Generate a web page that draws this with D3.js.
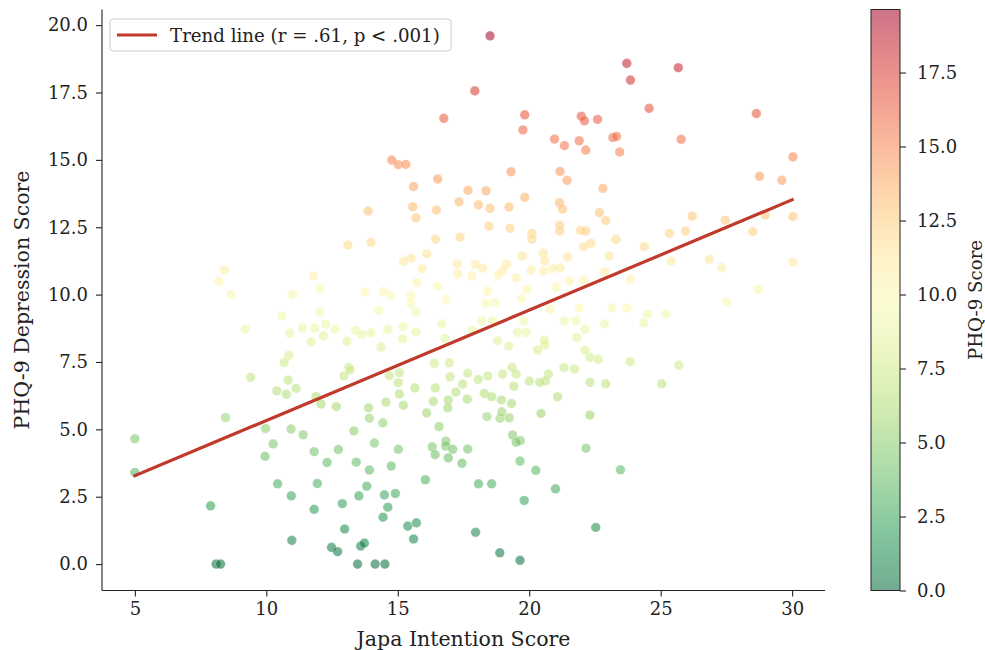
<html>
<head>
  <script src="https://d3js.org/d3.v7.min.js" charset="utf-8"></script>
  <title>Japa Intention vs PHQ-9</title>
  <style>
  body { margin: 0; background: #fff; }
  svg { font-family: "DejaVu Serif", serif; }
  .axis text { font-family: "DejaVu Serif", serif; font-size: 18px; fill: #222; }
  .axis path, .axis line { stroke: #222; stroke-width: 1.1; }
  </style>
</head>
<body>
  <div id="chart"></div>
  <script>

  // japa intention score (x)
  var japaScores = [
    13.1, 8.41, 8.2, 8.66, 11.8, 12.04, 11.0, 10.6, 12.03, 9.2, 10.89, 11.38, 11.84, 12.26, 12.62, 12.17, 11.7, 13.07, 10.86, 10.68, 13.14,
    9.4, 10.83, 10.4, 10.76, 11.13, 11.89, 12.08, 12.66, 12.95, 8.45, 5.0, 5.0, 9.97, 10.94, 11.4, 10.26, 9.95, 11.82, 12.31, 12.74,
    10.43, 10.95, 11.94, 7.88, 11.82, 12.89, 12.98, 10.97, 12.48, 12.71, 8.09, 8.26,
    14.77, 15.02, 15.31, 16.52, 15.6, 19.31, 17.67, 18.36, 17.33, 18.07, 18.51, 19.23, 15.57, 16.47, 13.87, 15.69, 18.47, 19.27,
    16.44, 17.37, 13.98, 16.1, 15.5, 15.22, 15.92, 17.26, 17.95, 18.23, 19.14, 18.99, 17.28, 17.82, 18.84, 15.72, 16.52, 13.76,
    14.45, 14.74, 15.5, 18.42, 16.83, 15.5, 18.36, 18.69, 14.27, 15.69, 18.19, 18.61, 13.39, 13.64, 13.98, 14.62, 15.2, 15.69,
    16.68, 15.19, 14.36, 16.8, 18.8, 19.22, 17.84,
    16.39, 16.96, 13.18, 14.68, 15.06, 16.99, 17.66, 18.06, 18.42, 18.99, 19.35, 15.02, 15.65, 16.43, 17.47, 17.21, 15.06, 14.55,
    15.21, 16.35, 16.92, 16.9, 17.64, 18.29, 18.57, 18.94, 19.33, 13.89, 13.92, 14.43, 16.1, 18.39, 18.89, 19.24, 18.96, 13.33,
    16.57, 14.11, 16.83, 16.82, 16.31, 17.09, 17.66, 15.02, 16.42, 16.92, 17.44, 19.37, 13.42, 13.92, 14.75, 16.05, 13.82, 13.52,
    14.49, 14.91, 18.07, 18.57, 14.62, 14.44, 15.38, 15.71, 15.6, 17.96, 13.59, 13.73, 13.47, 14.14, 14.51, 18.88,
    23.71, 23.85, 25.67, 24.56, 19.83, 19.76, 21.98, 22.1, 22.6, 20.96, 21.34, 21.9, 22.15, 23.18, 23.32, 23.44, 25.78, 21.17,
    21.44, 22.8, 19.83, 21.15, 21.27, 22.67, 22.91, 21.16, 21.16, 21.95, 22.15, 20.1, 20.1, 25.33, 23.3, 22.35, 22.07, 24.38,
    19.73, 20.54, 20.6, 21.46, 23.04, 20.07, 20.55, 20.89, 21.18, 19.5, 22.87, 21.53, 22.07, 23.85, 25.4, 19.92, 21.02, 19.71,
    20.79, 21.9, 21.34, 21.78, 23.15, 23.71, 24.51, 25.2, 22.86, 24.36, 19.79, 19.56, 19.88, 20.58, 20.58, 20.32, 21.8, 22.12,
    22.12, 22.31, 22.63, 23.84, 25.69, 19.5, 21.32, 21.72, 20.73, 20.62, 20.4, 20.0, 19.41, 22.31, 22.91, 25.04, 21.08, 20.45, 22.31,
    19.66, 19.5, 22.16, 19.65, 20.25, 23.47, 21.0, 19.81, 22.53, 19.65,
    28.64, 30.03, 28.76, 29.61, 26.2, 27.46, 25.94, 28.5, 28.98, 30.03, 26.85, 27.32, 30.03, 28.71, 27.52,
    18.51, 17.93, 16.75
  ];

  // PHQ-9 depression score (y), same order
  var phqScores = [
    11.84, 10.91, 10.5, 10.0, 10.69, 10.23, 10.0, 9.21, 9.35, 8.72, 8.56, 8.76, 8.76, 8.9, 8.72, 8.47, 8.25, 8.27, 7.75, 7.48, 7.3,
    6.93, 6.83, 6.43, 6.3, 6.52, 6.21, 5.94, 5.84, 6.98, 5.44, 4.65, 3.4, 5.03, 5.01, 4.8, 4.46, 4.0, 4.17, 3.77, 4.25,
    2.98, 2.53, 2.99, 2.16, 2.03, 2.24, 1.3, 0.88, 0.62, 0.46, 0.0, 0.0,
    14.99, 14.82, 14.83, 14.29, 14.01, 14.56, 13.87, 13.85, 13.44, 13.33, 13.2, 13.25, 13.26, 13.14, 13.1, 12.85, 12.54, 12.46,
    12.06, 12.13, 11.94, 11.51, 11.35, 11.23, 10.96, 11.13, 11.12, 10.98, 11.13, 10.9, 10.76, 10.7, 10.73, 10.44, 10.32, 10.1,
    10.12, 9.96, 9.96, 10.13, 9.82, 9.67, 9.67, 9.7, 9.42, 9.35, 9.03, 9.03, 8.68, 8.53, 8.58, 8.71, 8.81, 8.62,
    8.92, 8.36, 8.05, 8.37, 8.29, 8.09, 8.68,
    7.45, 7.47, 7.2, 6.99, 7.1, 6.95, 7.08, 6.85, 6.98, 7.05, 7.3, 6.73, 6.54, 6.54, 6.68, 6.38, 6.31, 6.01,
    5.89, 6.04, 6.09, 5.8, 6.12, 6.33, 6.21, 6.09, 5.96, 5.8, 5.41, 5.24, 5.61, 5.47, 5.41, 5.43, 5.65, 4.94,
    5.1, 4.49, 4.56, 4.38, 4.35, 4.26, 4.27, 4.26, 4.06, 3.94, 3.74, 4.79, 3.78, 3.49, 3.64, 3.13, 2.89, 2.53,
    2.57, 2.62, 2.98, 2.98, 2.11, 1.74, 1.41, 1.53, 0.93, 1.18, 0.67, 0.78, 0.0, 0.0, 0.0, 0.42,
    18.58, 17.96, 18.42, 16.91, 16.67, 16.11, 16.62, 16.45, 16.5, 15.77, 15.53, 15.71, 15.36, 15.83, 15.87, 15.29, 15.76, 14.57,
    14.24, 13.94, 13.61, 13.41, 13.17, 13.04, 12.75, 12.57, 12.36, 12.38, 12.36, 12.27, 12.06, 12.27, 12.05, 11.9, 11.78, 11.78,
    11.43, 11.53, 11.25, 11.4, 11.43, 10.91, 10.87, 10.97, 10.99, 10.62, 10.85, 10.51, 10.53, 10.56, 11.24, 10.2, 10.27, 9.86,
    9.46, 9.51, 9.03, 9.03, 9.52, 9.5, 9.28, 9.28, 8.92, 8.95, 9.02, 8.6, 8.6, 8.31, 8.13, 7.94, 8.41, 8.71,
    7.94, 7.67, 7.6, 7.51, 7.38, 7.05, 7.29, 7.24, 7.05, 6.8, 6.74, 6.79, 6.6, 6.74, 6.69, 6.69, 6.21, 5.59, 5.53,
    4.58, 4.52, 4.3, 3.82, 3.48, 3.5, 2.79, 2.36, 1.36, 0.14,
    16.72, 15.11, 14.39, 14.24, 12.91, 12.76, 12.36, 12.34, 12.95, 12.9, 11.31, 11.0, 11.21, 10.19, 9.73,
    19.6, 17.56, 16.54
  ];

  // fitted trend line end points
  var trendX = [5, 30];
  var trendY = [3.28, 13.52];
  var trendLabel = "Trend line (r = .61, p < .001)";

  var xTicks = [5, 10, 15, 20, 25, 30];
  var yTicks = [0, 2.5, 5, 7.5, 10, 12.5, 15, 17.5, 20];
  var cbTicks = [0, 2.5, 5, 7.5, 10, 12.5, 15, 17.5];
  var cbMax = 19.63;

  var width = 985, height = 650;
  var plot = { left: 102, right: 825, top: 9.5, bottom: 590.5 };

  var svg = d3.select("#chart").append("svg").attr("width", width).attr("height", height);

  var x = d3.scaleLinear().domain([3.75, 31.25]).range([plot.left, plot.right]);
  var y = d3.scaleLinear().domain([-0.98, 20.58]).range([plot.bottom, plot.top]);
  var cmap = function(v) { return d3.interpolateRdYlGn(1 - v / cbMax); };
  var alpha = 0.55;

  var pts = japaScores.map(function(v, i) { return { x: v, y: phqScores[i] }; });

  svg.append("g").selectAll("circle").data(pts).enter()
    .append("circle")
    .attr("cx", function(d) { return x(d.x); })
    .attr("cy", function(d) { return y(d.y); })
    .attr("r", 4.8)
    .attr("fill", function(d) { return cmap(d.y); })
    .attr("fill-opacity", alpha)
    .attr("stroke", "#fff")
    .attr("stroke-opacity", 0.5)
    .attr("stroke-width", 0.5);

  // trend line
  svg.append("line")
    .attr("x1", x(trendX[0])).attr("y1", y(trendY[0]))
    .attr("x2", x(trendX[1])).attr("y2", y(trendY[1]))
    .attr("stroke", "#c0392b").attr("stroke-width", 3.2)
    .attr("stroke-linecap", "square");

  // axes (top/right spines removed)
  var xAxis = svg.append("g").attr("class", "axis")
    .attr("transform", "translate(0," + plot.bottom + ")")
    .call(d3.axisBottom(x).tickValues(xTicks).tickSize(6).tickPadding(6).tickFormat(d3.format("d")));
  xAxis.select(".domain").attr("d", "M" + plot.left + ",0H" + plot.right);

  var yAxis = svg.append("g").attr("class", "axis")
    .attr("transform", "translate(" + plot.left + ",0)")
    .call(d3.axisLeft(y).tickValues(yTicks).tickSize(6).tickPadding(8).tickFormat(d3.format(".1f")));
  yAxis.select(".domain").attr("d", "M0," + plot.top + "V" + plot.bottom);

  svg.append("text")
    .attr("x", (plot.left + plot.right) / 2).attr("y", 646)
    .attr("text-anchor", "middle").attr("font-size", 20.5).attr("fill", "#222")
    .text("Japa Intention Score");

  svg.append("text")
    .attr("transform", "translate(29," + ((plot.top + plot.bottom) / 2) + ") rotate(-90)")
    .attr("text-anchor", "middle").attr("font-size", 20.5).attr("fill", "#222")
    .text("PHQ-9 Depression Score");

  // legend
  var lg = svg.append("g").attr("transform", "translate(110,19)");
  lg.append("rect").attr("width", 341).attr("height", 32).attr("rx", 3)
    .attr("fill", "#fff").attr("fill-opacity", 0.8).attr("stroke", "#ccc");
  lg.append("line").attr("x1", 7).attr("x2", 47).attr("y1", 16).attr("y2", 16)
    .attr("stroke", "#c0392b").attr("stroke-width", 3.2);
  lg.append("text").attr("x", 60).attr("y", 22.5).attr("font-size", 18.2).attr("fill", "#222")
    .text(trendLabel);

  // colorbar
  var cb = { x: 871, w: 29 };
  var cy = d3.scaleLinear().domain([0, cbMax]).range([plot.bottom, plot.top]);
  var grad = svg.append("defs").append("linearGradient").attr("id", "cbgrad")
    .attr("x1", 0).attr("y1", 1).attr("x2", 0).attr("y2", 0);
  d3.range(0, 1.0001, 0.05).forEach(function(t) {
    grad.append("stop").attr("offset", t)
      .attr("stop-color", cmap(t * cbMax)).attr("stop-opacity", alpha);
  });
  svg.append("rect").attr("x", cb.x).attr("y", plot.top)
    .attr("width", cb.w).attr("height", plot.bottom - plot.top)
    .attr("fill", "url(#cbgrad)").attr("stroke", "#222").attr("stroke-width", 1);

  svg.append("g").attr("class", "axis")
    .attr("transform", "translate(" + (cb.x + cb.w) + ",0)")
    .call(d3.axisRight(cy).tickValues(cbTicks).tickSize(6).tickPadding(11).tickFormat(d3.format(".1f")))
    .select(".domain").remove();

  svg.append("text")
    .attr("transform", "translate(982," + ((plot.top + plot.bottom) / 2) + ") rotate(-90)")
    .attr("text-anchor", "middle").attr("font-size", 18.2).attr("fill", "#222")
    .text("PHQ-9 Score");

  </script>
</body>
</html>
